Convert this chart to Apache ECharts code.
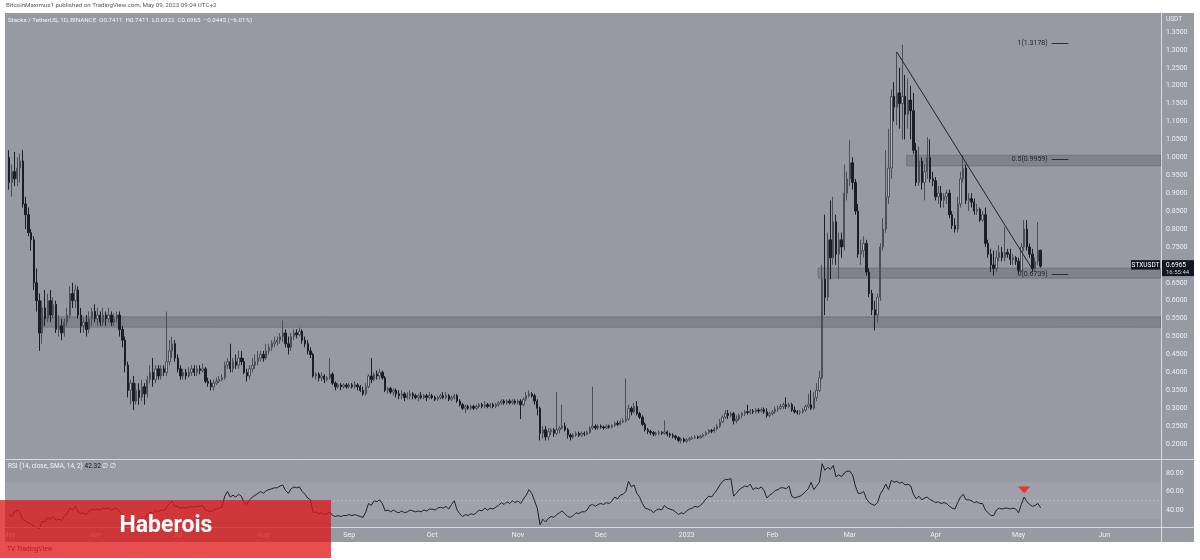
<!DOCTYPE html>
<html><head><meta charset="utf-8">
<script src="https://cdn.jsdelivr.net/npm/echarts@6/dist/echarts.min.js"></script>
<style>html,body{margin:0;padding:0;background:#fff;}#c{width:1200px;height:560px;}</style>
</head><body><div id="c"></div><script>
// ---- DATA: daily candles [open, close, low, high], STX/USDT, from 2022-05-01 ----
const may22=[[1.00,0.93,0.91,1.02],[0.93,0.96,0.89,0.98],[0.96,0.94,0.92,1.015],[0.94,0.97,0.92,1.00],[0.97,0.99,0.93,1.01],[0.99,0.87,0.86,1.02],[0.87,0.84,0.80,0.89],[0.84,0.79,0.78,0.86],[0.79,0.77,0.74,0.80],[0.77,0.65,0.63,0.78],[0.65,0.60,0.57,0.69],[0.60,0.51,0.46,0.62],[0.51,0.58,0.48,0.60],[0.58,0.55,0.53,0.63],[0.55,0.60,0.54,0.62],[0.60,0.56,0.54,0.63],[0.56,0.59,0.55,0.61],[0.59,0.52,0.51,0.60],[0.52,0.53,0.50,0.56],[0.53,0.51,0.49,0.55],[0.51,0.54,0.50,0.55],[0.54,0.56,0.53,0.58],[0.56,0.62,0.55,0.64],[0.62,0.60,0.58,0.65],[0.60,0.63,0.58,0.645],[0.63,0.56,0.55,0.64],[0.56,0.53,0.51,0.58],[0.53,0.54,0.51,0.55],[0.54,0.52,0.50,0.56],[0.52,0.55,0.51,0.57],[0.55,0.57,0.53,0.58]];
const jun22=[[0.57,0.55,0.54,0.59],[0.55,0.56,0.53,0.58],[0.56,0.54,0.53,0.57],[0.54,0.56,0.53,0.58],[0.56,0.55,0.53,0.57],[0.55,0.56,0.54,0.58],[0.56,0.54,0.53,0.57],[0.54,0.55,0.53,0.565],[0.55,0.56,0.54,0.57],[0.56,0.52,0.50,0.57],[0.52,0.49,0.47,0.53],[0.49,0.42,0.40,0.50],[0.42,0.35,0.33,0.43],[0.35,0.37,0.31,0.38],[0.37,0.32,0.295,0.39],[0.32,0.35,0.31,0.37],[0.35,0.33,0.31,0.37],[0.33,0.36,0.32,0.38],[0.36,0.34,0.31,0.37],[0.34,0.38,0.33,0.39],[0.38,0.40,0.37,0.42],[0.40,0.38,0.36,0.44],[0.38,0.41,0.37,0.42],[0.41,0.39,0.38,0.42],[0.39,0.41,0.38,0.42],[0.41,0.40,0.39,0.42],[0.40,0.43,0.39,0.57],[0.43,0.46,0.42,0.49],[0.46,0.48,0.44,0.50],[0.48,0.44,0.43,0.49]];
const jul22=[[0.44,0.41,0.40,0.45],[0.41,0.39,0.38,0.42],[0.39,0.40,0.38,0.41],[0.40,0.39,0.38,0.41],[0.39,0.40,0.385,0.415],[0.40,0.41,0.39,0.42],[0.41,0.40,0.39,0.42],[0.40,0.41,0.39,0.42],[0.41,0.405,0.395,0.42],[0.405,0.41,0.40,0.425],[0.41,0.375,0.37,0.415],[0.375,0.37,0.36,0.385],[0.37,0.36,0.35,0.38],[0.36,0.37,0.35,0.38],[0.37,0.375,0.365,0.385],[0.375,0.38,0.37,0.39],[0.38,0.385,0.375,0.395],[0.385,0.42,0.38,0.43],[0.42,0.43,0.41,0.44],[0.43,0.41,0.40,0.48],[0.41,0.43,0.40,0.44],[0.43,0.42,0.41,0.45],[0.42,0.44,0.41,0.46],[0.44,0.43,0.42,0.46],[0.43,0.40,0.395,0.44],[0.40,0.39,0.375,0.41],[0.39,0.41,0.38,0.42],[0.41,0.42,0.40,0.44],[0.42,0.43,0.41,0.45],[0.43,0.44,0.42,0.46],[0.44,0.45,0.43,0.46]];
const aug22=[[0.45,0.44,0.43,0.46],[0.44,0.46,0.435,0.48],[0.46,0.47,0.45,0.48],[0.47,0.48,0.46,0.49],[0.48,0.485,0.47,0.50],[0.485,0.49,0.475,0.50],[0.49,0.50,0.48,0.51],[0.50,0.51,0.485,0.545],[0.51,0.48,0.47,0.52],[0.48,0.47,0.45,0.50],[0.47,0.50,0.46,0.51],[0.50,0.51,0.49,0.52],[0.51,0.505,0.495,0.52],[0.505,0.515,0.50,0.525],[0.515,0.49,0.48,0.52],[0.49,0.48,0.47,0.50],[0.48,0.46,0.45,0.49],[0.46,0.45,0.44,0.47],[0.45,0.39,0.385,0.455],[0.39,0.395,0.38,0.40],[0.395,0.385,0.375,0.40],[0.385,0.39,0.375,0.40],[0.39,0.38,0.37,0.395],[0.38,0.385,0.375,0.39],[0.385,0.395,0.38,0.44],[0.395,0.37,0.365,0.40],[0.37,0.36,0.35,0.375],[0.36,0.365,0.355,0.37],[0.365,0.36,0.35,0.37],[0.36,0.365,0.355,0.37],[0.365,0.36,0.355,0.37]];
const sep22=[[0.36,0.365,0.355,0.37],[0.365,0.36,0.355,0.37],[0.36,0.365,0.355,0.375],[0.365,0.36,0.35,0.37],[0.36,0.35,0.345,0.365],[0.35,0.34,0.335,0.36],[0.34,0.36,0.335,0.37],[0.36,0.39,0.355,0.395],[0.39,0.38,0.37,0.44],[0.38,0.395,0.375,0.40],[0.395,0.39,0.38,0.405],[0.39,0.40,0.38,0.41],[0.40,0.385,0.38,0.405],[0.385,0.35,0.345,0.39],[0.35,0.355,0.34,0.36],[0.355,0.345,0.34,0.36],[0.345,0.35,0.335,0.355],[0.35,0.34,0.33,0.355],[0.34,0.335,0.325,0.35],[0.335,0.34,0.325,0.35],[0.34,0.33,0.32,0.345],[0.33,0.335,0.325,0.345],[0.335,0.34,0.325,0.35],[0.34,0.335,0.325,0.345],[0.335,0.33,0.325,0.34],[0.33,0.335,0.32,0.34],[0.335,0.33,0.325,0.345],[0.33,0.335,0.325,0.34],[0.335,0.33,0.32,0.34],[0.33,0.335,0.325,0.345]];
const oct22=[[0.335,0.33,0.325,0.34],[0.33,0.325,0.32,0.335],[0.325,0.33,0.32,0.335],[0.33,0.335,0.325,0.34],[0.335,0.33,0.325,0.345],[0.33,0.335,0.325,0.345],[0.335,0.325,0.32,0.34],[0.325,0.33,0.32,0.335],[0.33,0.335,0.325,0.34],[0.335,0.32,0.315,0.34],[0.32,0.31,0.305,0.325],[0.31,0.30,0.295,0.315],[0.30,0.305,0.286,0.31],[0.305,0.30,0.295,0.31],[0.30,0.305,0.295,0.31],[0.305,0.30,0.295,0.31],[0.30,0.305,0.295,0.31],[0.305,0.31,0.30,0.315],[0.31,0.305,0.30,0.315],[0.305,0.31,0.30,0.32],[0.31,0.305,0.30,0.315],[0.305,0.31,0.30,0.315],[0.31,0.305,0.30,0.315],[0.305,0.31,0.30,0.315],[0.31,0.315,0.305,0.32],[0.315,0.32,0.31,0.325],[0.32,0.315,0.31,0.325],[0.315,0.32,0.31,0.325],[0.32,0.315,0.31,0.325],[0.315,0.32,0.31,0.325],[0.32,0.315,0.31,0.325]];
const nov22=[[0.315,0.32,0.31,0.325],[0.32,0.31,0.27,0.325],[0.31,0.325,0.305,0.33],[0.325,0.335,0.32,0.345],[0.335,0.34,0.33,0.35],[0.34,0.335,0.33,0.345],[0.335,0.32,0.31,0.34],[0.32,0.30,0.28,0.325],[0.30,0.23,0.21,0.305],[0.23,0.24,0.215,0.25],[0.24,0.22,0.21,0.25],[0.22,0.235,0.21,0.245],[0.235,0.24,0.225,0.245],[0.24,0.23,0.22,0.245],[0.23,0.24,0.225,0.345],[0.24,0.245,0.23,0.25],[0.245,0.25,0.24,0.31],[0.25,0.24,0.235,0.26],[0.24,0.225,0.215,0.245],[0.225,0.22,0.21,0.23],[0.22,0.225,0.215,0.23],[0.225,0.23,0.22,0.235],[0.23,0.225,0.22,0.235],[0.225,0.23,0.22,0.235],[0.23,0.228,0.222,0.235],[0.228,0.232,0.224,0.238],[0.232,0.245,0.228,0.25],[0.245,0.25,0.24,0.36],[0.25,0.245,0.24,0.255],[0.245,0.25,0.24,0.255]];
const dec22=[[0.25,0.248,0.243,0.255],[0.248,0.245,0.24,0.252],[0.245,0.25,0.242,0.255],[0.25,0.247,0.243,0.254],[0.247,0.252,0.244,0.256],[0.252,0.258,0.248,0.262],[0.258,0.255,0.25,0.265],[0.255,0.262,0.252,0.268],[0.262,0.265,0.258,0.272],[0.265,0.27,0.26,0.383],[0.27,0.30,0.265,0.31],[0.30,0.29,0.28,0.305],[0.29,0.305,0.285,0.315],[0.305,0.285,0.28,0.32],[0.285,0.275,0.27,0.29],[0.275,0.255,0.25,0.28],[0.255,0.24,0.235,0.26],[0.24,0.235,0.228,0.245],[0.235,0.232,0.225,0.24],[0.232,0.228,0.222,0.236],[0.228,0.23,0.222,0.235],[0.23,0.232,0.225,0.238],[0.232,0.23,0.226,0.236],[0.23,0.234,0.226,0.266],[0.234,0.228,0.222,0.238],[0.228,0.225,0.218,0.232],[0.225,0.222,0.216,0.23],[0.222,0.218,0.212,0.226],[0.218,0.21,0.205,0.222],[0.21,0.214,0.202,0.218],[0.214,0.208,0.204,0.218]];
const jan23=[[0.208,0.212,0.204,0.216],[0.212,0.215,0.208,0.22],[0.215,0.218,0.212,0.222],[0.218,0.22,0.214,0.225],[0.22,0.218,0.214,0.224],[0.218,0.222,0.215,0.226],[0.222,0.226,0.218,0.23],[0.226,0.232,0.222,0.236],[0.232,0.238,0.228,0.242],[0.238,0.236,0.23,0.242],[0.236,0.242,0.232,0.248],[0.242,0.25,0.238,0.255],[0.25,0.262,0.245,0.27],[0.262,0.275,0.258,0.28],[0.275,0.285,0.27,0.295],[0.285,0.28,0.27,0.295],[0.28,0.285,0.275,0.29],[0.285,0.265,0.255,0.29],[0.265,0.27,0.258,0.28],[0.27,0.28,0.265,0.285],[0.28,0.285,0.272,0.29],[0.285,0.29,0.278,0.295],[0.29,0.288,0.282,0.31],[0.288,0.292,0.282,0.298],[0.292,0.29,0.284,0.298],[0.29,0.295,0.285,0.30],[0.295,0.292,0.286,0.30],[0.292,0.296,0.288,0.302],[0.296,0.29,0.284,0.302],[0.29,0.28,0.274,0.30],[0.28,0.285,0.275,0.29]];
const feb23=[[0.285,0.29,0.28,0.295],[0.29,0.298,0.285,0.305],[0.298,0.30,0.29,0.308],[0.30,0.305,0.295,0.312],[0.305,0.31,0.298,0.316],[0.31,0.305,0.298,0.33],[0.305,0.31,0.30,0.316],[0.31,0.295,0.29,0.315],[0.295,0.29,0.285,0.305],[0.29,0.288,0.282,0.295],[0.288,0.29,0.282,0.295],[0.29,0.295,0.285,0.30],[0.295,0.305,0.29,0.31],[0.305,0.31,0.30,0.34],[0.31,0.30,0.295,0.35],[0.30,0.33,0.295,0.345],[0.33,0.35,0.32,0.37],[0.35,0.385,0.345,0.405],[0.385,0.66,0.38,0.70],[0.66,0.61,0.56,0.84],[0.61,0.77,0.60,0.79],[0.77,0.72,0.66,0.88],[0.72,0.82,0.70,0.89],[0.82,0.73,0.70,0.84],[0.73,0.77,0.66,0.79],[0.77,0.75,0.72,0.79],[0.75,0.90,0.74,0.98],[0.90,0.94,0.88,0.96]];
const mar23=[[0.94,0.985,0.92,1.048],[0.985,0.93,0.91,1.00],[0.93,0.85,0.84,0.94],[0.85,0.73,0.72,0.87],[0.73,0.74,0.70,0.77],[0.74,0.76,0.72,0.78],[0.76,0.68,0.67,0.77],[0.68,0.62,0.61,0.69],[0.62,0.575,0.56,0.63],[0.575,0.56,0.517,0.60],[0.56,0.61,0.54,0.62],[0.61,0.75,0.60,0.76],[0.75,0.80,0.74,0.83],[0.80,0.89,0.79,1.02],[0.89,0.97,0.87,1.08],[0.97,1.17,0.94,1.19],[1.17,1.14,1.10,1.21],[1.14,1.18,1.09,1.294],[1.18,1.15,1.08,1.25],[1.15,1.17,1.05,1.314],[1.17,1.12,1.05,1.23],[1.12,1.16,1.08,1.22],[1.16,1.13,1.05,1.20],[1.13,1.02,1.01,1.18],[1.02,0.93,0.92,1.04],[0.93,0.99,0.92,1.03],[0.99,0.93,0.91,1.00],[0.93,0.96,0.88,0.98],[0.96,1.00,0.94,1.057],[1.00,0.94,0.93,1.05],[0.94,0.935,0.92,0.96]];
const apr23=[[0.935,0.89,0.88,0.945],[0.89,0.90,0.87,0.92],[0.90,0.88,0.86,0.92],[0.88,0.89,0.86,0.90],[0.89,0.90,0.87,0.91],[0.90,0.84,0.83,0.91],[0.84,0.81,0.80,0.85],[0.81,0.80,0.79,0.83],[0.80,0.87,0.79,0.89],[0.87,0.94,0.86,0.96],[0.94,0.97,0.93,1.006],[0.97,0.88,0.87,0.98],[0.88,0.885,0.85,0.90],[0.885,0.875,0.86,0.90],[0.875,0.85,0.84,0.885],[0.85,0.855,0.84,0.87],[0.855,0.825,0.82,0.86],[0.825,0.84,0.82,0.85],[0.84,0.76,0.75,0.86],[0.76,0.73,0.72,0.77],[0.73,0.70,0.68,0.745],[0.70,0.69,0.67,0.74],[0.69,0.72,0.68,0.74],[0.72,0.735,0.71,0.755],[0.735,0.72,0.71,0.75],[0.72,0.735,0.71,0.805],[0.735,0.73,0.72,0.745],[0.73,0.715,0.70,0.745],[0.715,0.72,0.70,0.73],[0.72,0.71,0.70,0.725]];
const may23=[[0.71,0.685,0.675,0.72],[0.685,0.75,0.68,0.76],[0.75,0.80,0.74,0.825],[0.80,0.75,0.74,0.825],[0.75,0.73,0.72,0.76],[0.73,0.69,0.68,0.745],[0.69,0.71,0.68,0.72],[0.71,0.7411,0.70,0.82],[0.7411,0.6965,0.6922,0.7411]];

// ---- RSI(14) values ----
const rsi22a=[35,33,38,40,37,30,28,26,25,22,21,20,28,27,32,30,33,29,30,29,33,36,42,40,44,38,36,37,35,39,41,
 40,41,40,42,41,42,40,41,42,38,35,29,23,27,22,28,27,31,29,35,38,36,40,38,40,39,43,47,49,44,
 44,42,43,42,43,44,43,44,44,45,40,39,38,40,41,42,43,55,60,54,56,54,57,55,48,46,51,54,56,58,60,
 58,61,62,63,64,64,66,67,61,58,63,65,64,65,60,57,53,51,37,38,36,37,35,36,38,34,33,34,33,34,34];
const rsi22b=[35,34,35,34,33,32,38,47,45,50,49,51,47,39,40,38,40,38,37,39,37,38,40,39,38,39,38,40,39,41,
 41,40,42,43,42,44,41,46,50,40,36,33,35,34,36,35,37,40,39,42,40,42,41,43,45,48,46,49,47,50,48,
 50,47,52,56,62,58,50,42,24,30,27,31,33,32,35,37,39,36,33,32,34,37,36,38,38,40,45,46,44,46,
 47,46,48,47,50,54,52,56,57,60,71,65,67,58,54,47,42,41,40,37,40,41,40,45,42,41,40,38,35,37,36];
const rsi23=[39,41,42,44,43,45,48,52,55,54,58,62,67,71,73,73,74,55,58,62,64,66,65,68,62,64,63,65,61,53,56,
 58,61,62,64,64,63,66,55,53,54,55,57,60,63,70,62,66,70,90,83,86,84,88,76,78,76,80,82,
 82,78,66,58,58,60,52,48,46,45,48,57,62,68,62,72,70,71,69,70,67,68,66,57,52,55,51,53,54,51,50,
 48,49,47,48,47,44,42,41,48,54,57,51,51,50,48,49,47,47,40,37,34,34,40,42,41,42,42,41,42,41,
 37,46,54,49,46,44,45,47,42.32];

// ---- annotations (values) ----
const firstDay = [2022, 4, 1];       // 2022-05-01
const dayCount = 417;                // axis runs to 2023-06-20
const zones = [ {from:'2022-05-14', lo:0.526, hi:0.555}, {from:'2023-02-18', lo:0.663, hi:0.691}, {from:'2023-03-22', lo:0.976, hi:1.006} ];
const fibLevels = [ {name:'1', v:1.3178}, {name:'0.5', v:0.9959}, {name:'0', v:0.6739} ];
const fibSpan = ['2023-05-13','2023-05-19'];
const trend = [['2023-03-18',1.294],['2023-05-06',0.688]];
const signal = ['2023-05-03', 61.5];
const lastPrice = 0.6965;
const monthNames = ['Jan','Feb','Mar','Apr','May','Jun','Jul','Aug','Sep','Oct','Nov','Dec'];
const priceTicks = {min:0.15, max:1.40, step:0.05};
const rsiTicks = {min:20, max:100, step:20};

// ---- build ----
const ohlc = [].concat(may22,jun22,jul22,aug22,sep22,oct22,nov22,dec22,jan23,feb23,mar23,apr23,may23);
const rsi = [].concat(rsi22a,rsi22b,rsi23);
const cats = [];
for (let i=0;i<dayCount;i++){ const d=new Date(Date.UTC(firstDay[0],firstDay[1],firstDay[2]+i)); cats.push(d.toISOString().slice(0,10)); }

const FONT = 'Roboto, "Noto Sans", sans-serif';
const LIGHT = '#eef0f4';
const BG = '#979aa3';
const G_LEFT = 7.6, G_RIGHT = 39;

const chart = echarts.init(document.getElementById('c'));
const option = {
  animation:false,
  backgroundColor:'#ffffff',
  grid:[
    {left:G_LEFT, right:G_RIGHT, top:14, bottom:98, containLabel:false, outerBoundsMode:'none'},
    {left:G_LEFT, right:G_RIGHT, top:454.5, bottom:31.5, containLabel:false, outerBoundsMode:'none'}
  ],
  xAxis:[
    {type:'category', gridIndex:0, data:cats, axisLine:{show:false}, axisTick:{show:false}, axisLabel:{show:false}, splitLine:{show:false}},
    {type:'category', gridIndex:1, data:cats, axisLine:{show:false}, axisTick:{show:false}, splitLine:{show:false},
     axisLabel:{color:LIGHT, fontSize:7, fontFamily:FONT, margin:3,
       interval:(i,v)=>v.slice(8)==='01',
       formatter:(v)=>{const m=+v.slice(5,7); return m===1? v.slice(0,4) : monthNames[m-1];}}}
  ],
  yAxis:[
    {type:'value', gridIndex:0, position:'right', min:priceTicks.min, max:priceTicks.max, interval:priceTicks.step,
     axisLine:{show:false}, axisTick:{show:false}, splitLine:{show:false},
     axisLabel:{color:LIGHT, fontSize:7, fontFamily:FONT, margin:5,
       formatter:(v)=>{const r=Math.round(v*100)/100; return (r<0.19||r>1.36)?'':r.toFixed(4);}}},
    {type:'value', gridIndex:1, position:'right', min:rsiTicks.min, max:rsiTicks.max, interval:rsiTicks.step,
     axisLine:{show:false}, axisTick:{show:false}, splitLine:{show:false},
     axisLabel:{color:LIGHT, fontSize:7, fontFamily:FONT, margin:5,
       formatter:(v)=>(v<30||v>90)?'':v.toFixed(2)}}
  ],
  series:[
    {type:'candlestick', xAxisIndex:0, yAxisIndex:0, data:ohlc, barWidth:'68%', z:3,
     itemStyle:{color:'#b3b6bd', color0:'#1b1e27', borderColor:'#4b4f59', borderColor0:'#1b1e27', borderWidth:1},
     markLine:{silent:true, symbol:['none','none'], label:{show:false}, lineStyle:{color:'#1e222d', width:1, type:'solid'},
       data:[[{coord:trend[0]},{coord:trend[1]}]]}},
    {type:'line', xAxisIndex:0, yAxisIndex:0, data:[], silent:true,
     markLine:{silent:true, symbol:['none','none'], lineStyle:{color:'#2a2e39', width:1, type:'solid'},
       label:{show:true, position:'start', distance:4, color:'#1e222d', fontSize:7, fontFamily:FONT, formatter:'{b}'},
       data: fibLevels.map(f=>[{name:f.name+'('+f.v.toFixed(4)+')', coord:[fibSpan[0], f.v]},{coord:[fibSpan[1], f.v]}])}},
    {type:'line', xAxisIndex:1, yAxisIndex:1, data:rsi, showSymbol:false, symbol:'none', z:3,
     lineStyle:{color:'#1e222d', width:1},
     markPoint:{silent:true, symbol:'triangle', symbolRotate:180, symbolSize:[12,7], itemStyle:{color:'#f0302f'}, label:{show:false},
       data:[{coord:signal}]}}
  ]
};
chart.setOption(option);

// ---- overlay graphics positioned through the chart's own scales ----
const P = (g, c, v) => chart.convertToPixel({gridIndex:g}, [c, v]);
const plotRight = 1200 - G_RIGHT;
const band = (plotRight - G_LEFT) / cats.length;
const g = [];
g.push({type:'rect', z:-10, shape:{x:5, y:13, width:1189, height:529}, style:{fill:BG}});
// RSI band 30-70 and mid line
const y70 = P(1, cats[0], 70)[1], y30 = P(1, cats[0], 30)[1], y50 = P(1, cats[0], 50)[1];
g.push({type:'rect', z:-9, shape:{x:5, y:y70, width:plotRight-5, height:y30-y70}, style:{fill:'rgba(255,255,255,0.07)'}});
g.push({type:'line', z:-8, shape:{x1:5, y1:y50, x2:plotRight, y2:y50}, style:{stroke:'rgba(235,237,242,0.45)', lineWidth:1, lineDash:[2,2]}});
// zones
zones.forEach(z=>{
  const a = P(0, z.from, z.hi), b = P(0, z.from, z.lo);
  g.push({type:'rect', z:-7, shape:{x:a[0]-band/2, y:a[1], width:plotRight-(a[0]-band/2), height:b[1]-a[1]},
          style:{fill:'rgba(58,62,76,0.25)', stroke:'rgba(80,84,98,0.4)', lineWidth:1}});
});
// separators
const sep = 'rgba(232,234,240,0.8)';
g.push({type:'line', z:5, shape:{x1:plotRight+0.5, y1:13, x2:plotRight+0.5, y2:542}, style:{stroke:sep, lineWidth:1}});
g.push({type:'line', z:5, shape:{x1:5, y1:459.5, x2:1194, y2:459.5}, style:{stroke:sep, lineWidth:1}});
g.push({type:'line', z:5, shape:{x1:5, y1:527.5, x2:1194, y2:527.5}, style:{stroke:sep, lineWidth:1}});
// texts
g.push({type:'text', z:20, x:6, y:2, style:{text:'BitcoinMaximus1 published on TradingView.com, May 09, 2023 09:04 UTC+2', fill:'#555861', fontSize:6.2, fontFamily:FONT, verticalAlign:'top'}});
g.push({type:'text', z:20, x:8, y:17, style:{text:'Stacks / TetherUS, 1D, BINANCE  O0.7411  H0.7411  L0.6922  C0.6965  −0.0445 (−6.01%)', fill:'#f2f3f6', fontSize:6.2, fontFamily:FONT, verticalAlign:'top'}});
g.push({type:'text', z:20, x:8, y:462.5, style:{text:'{a|RSI (14, close, SMA, 14, 2)} {b|42.32} {a|∅ ∅}', fontSize:6.5, fontFamily:FONT, verticalAlign:'top',
  rich:{a:{fill:'#f2f3f6', fontSize:6.5, fontFamily:FONT}, b:{fill:'#131722', fontSize:6.5, fontFamily:FONT}}}});
g.push({type:'text', z:20, x:1166, y:16, style:{text:'USDT', fill:LIGHT, fontSize:6.5, fontFamily:FONT, verticalAlign:'top'}});
// last price tags
const yp = P(0, cats[0], lastPrice)[1];
g.push({type:'rect', z:30, shape:{x:1131, y:yp-6, width:29, height:9.5}, style:{fill:'#131722'}});
g.push({type:'text', z:31, x:1145.5, y:yp-1.2, style:{text:'STXUSDT', fill:'#ffffff', fontSize:6.5, fontFamily:FONT, align:'center', verticalAlign:'middle'}});
g.push({type:'rect', z:30, shape:{x:plotRight+1, y:yp-6, width:32, height:16}, style:{fill:'#131722'}});
g.push({type:'text', z:31, x:plotRight+5, y:yp-1.2, style:{text:lastPrice.toFixed(4), fill:'#ffffff', fontSize:6.5, fontFamily:FONT, verticalAlign:'middle'}});
g.push({type:'text', z:31, x:plotRight+5, y:yp+6, style:{text:'16:55:44', fill:'#d0d3da', fontSize:6, fontFamily:FONT, verticalAlign:'middle'}});
// watermark
g.push({type:'text', z:40, x:7, y:549, style:{text:'TV TradingView', fill:'#2a2e39', fontSize:6.5, fontFamily:FONT, verticalAlign:'middle'}});
g.push({type:'rect', z:50, shape:{x:0, y:500, width:331, height:58}, style:{fill:'rgba(222,22,24,0.76)'}});
g.push({type:'text', z:51, x:166, y:526, style:{text:'Haberois', fill:'#ffffff', fontSize:23, fontWeight:'bold', fontFamily:'Roboto, "Open Sans", sans-serif', align:'center', verticalAlign:'middle'}});
chart.setOption({graphic:g});
</script></body></html>
